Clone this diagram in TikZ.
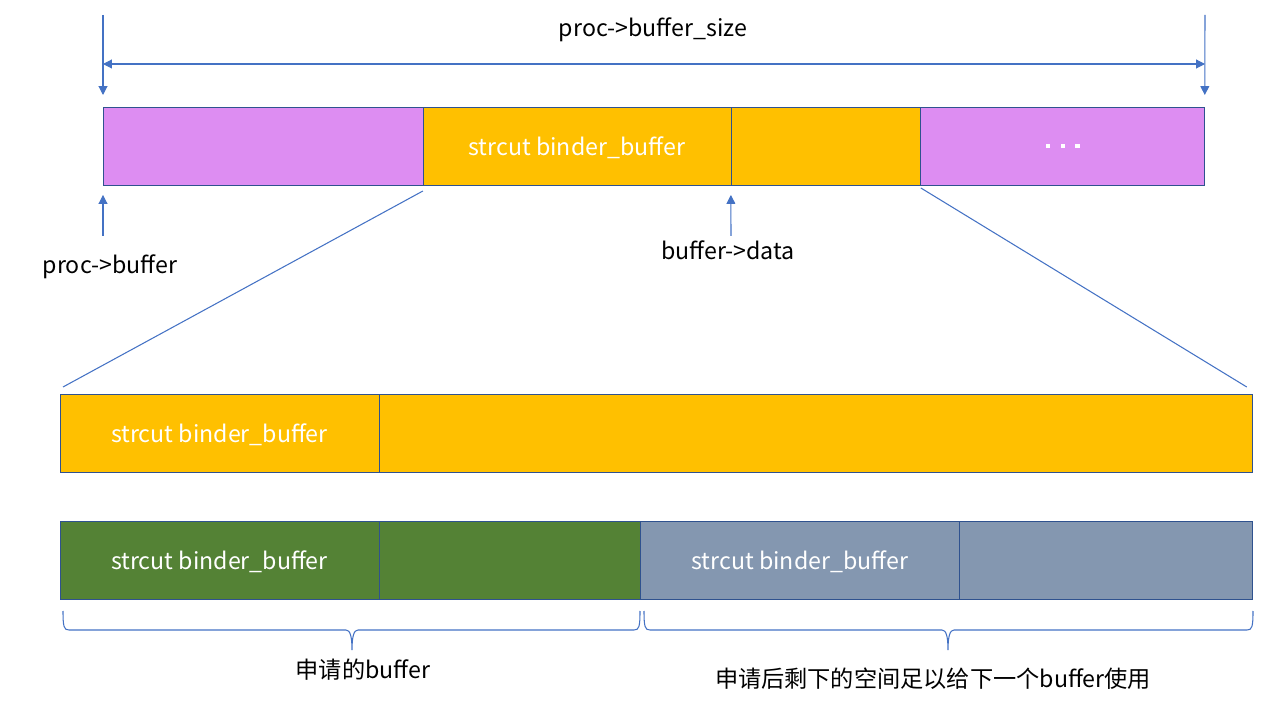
\documentclass[tikz,border=0pt]{standalone}
\usepackage{fontspec}
\setmainfont{Noto Sans CJK SC}
\usetikzlibrary{arrows.meta, positioning, calc}
\definecolor{segpurple}{HTML}{DD8DF2}
\definecolor{segorange}{HTML}{FFC000}
\definecolor{seggreen}{HTML}{548235}
\definecolor{seggray}{HTML}{8497B0}
\definecolor{segedge}{HTML}{2F528F}
\definecolor{guideblue}{HTML}{4472C4}

\begin{document}
\begin{tikzpicture}[
  x=0.02cm, y=-0.02cm,
  seg/.style={rectangle, draw=segedge, fill=#1, minimum height=1.56cm, inner sep=0pt, outer sep=0pt, text=white, text depth=0pt, font=\fontsize{13.2}{15}\selectfont},
  guide/.style={guideblue, line width=0.6pt},
  tipline/.style={guide, -{Triangle[length=5pt, width=5pt]}},
  txtlabel/.style={font=\fontsize{13.2}{15}\selectfont, text=black, inner sep=0pt}
]
  \useasboundingbox (0,0) rectangle (1271,712);

  % Memory of the process
  \node[seg=segpurple, minimum width=6.4cm, anchor=north west] at (103,107) (p1) {};
  \node[seg=segorange, minimum width=6.16cm, right=0pt of p1] (hdr) {strcut binder\_buffer};
  \node[seg=segorange, minimum width=3.8cm, right=0pt of hdr] (dat) {};
  \node[seg=segpurple, minimum width=5.68cm, right=0pt of dat] (rest) {\rule{2.4pt}{2.4pt}\hspace{6pt}\rule{2.4pt}{2.4pt}\hspace{6pt}\rule{2.4pt}{2.4pt}};

  % Size of the whole area
  \coordinate (lt) at (103,15);
  \coordinate (rt) at (1205,15);
  \coordinate (lm) at (103,64);
  \coordinate (rm) at (1205,64);
  \draw[tipline] (lt) -- ([yshift=0.24cm]p1.north west);
  \draw[tipline] (rt) -- ([yshift=0.24cm]rest.north east);
  \draw[guide, {Triangle[length=5pt, width=5pt]}-{Triangle[length=5pt, width=5pt]}] (lm) -- (rm);
  \node[txtlabel] at (653,30) (sizelbl) {proc->buffer\_size};

  % Pointers
  \coordinate (pb) at (103,236);
  \coordinate (pd) at (731,236);
  \draw[tipline] (pb) -- ([yshift=-0.2cm]p1.south west);
  \draw[tipline] (pd) -- ([yshift=-0.2cm]hdr.south east);
  \node[txtlabel] at (110,267) (pblbl) {proc->buffer};
  \node[txtlabel] at (728,250) (pdlbl) {buffer->data};

  % Free buffer before allocation
  \node[seg=segorange, minimum width=6.38cm, anchor=north west] at (60,394) (f1) {strcut binder\_buffer};
  \node[seg=segorange, minimum width=17.48cm, right=0pt of f1] (f2) {};
  \draw[guide] ([yshift=-0.12cm]hdr.south west) -- ([xshift=0.06cm, yshift=0.14cm]f1.north west);
  \draw[guide] ([yshift=-0.06cm]dat.south east) -- ([xshift=-0.12cm, yshift=0.14cm]f2.north east);

  % After allocation
  \node[seg=seggreen, minimum width=6.38cm, anchor=north west] at (60,521) (a1) {strcut binder\_buffer};
  \node[seg=seggreen, minimum width=5.22cm, right=0pt of a1] (a2) {};
  \node[seg=seggray, minimum width=6.4cm, right=0pt of a2] (n1) {strcut binder\_buffer};
  \node[seg=seggray, minimum width=5.86cm, right=0pt of n1] (n2) {};

  % Braces
  \coordinate (bl1) at (63,611);
  \coordinate (bl2) at (640,611);
  \coordinate (br1) at (644,611);
  \coordinate (br2) at (1253,611);
  \draw[guide] (bl1) .. controls +(0,16) and +(-5,0) .. (69,630) -- (346,630)
    .. controls +(4,0) and +(0,-14) .. (352,650) .. controls +(0,-14) and +(-4,0) .. (358,630)
    -- (634,630) .. controls +(5,0) and +(0,16) .. (bl2);
  \draw[guide] (br1) .. controls +(0,16) and +(-5,0) .. (650,630) -- (942,630)
    .. controls +(4,0) and +(0,-14) .. (948,650) .. controls +(0,-14) and +(-4,0) .. (954,630)
    -- (1247,630) .. controls +(5,0) and +(0,16) .. (br2);
  \node[txtlabel] at (363,670) (alloclbl) {申请的buffer};
  \node[txtlabel] at (933,679) (freelbl) {申请后剩下的空间足以给下一个buffer使用};
\end{tikzpicture}
\end{document}
